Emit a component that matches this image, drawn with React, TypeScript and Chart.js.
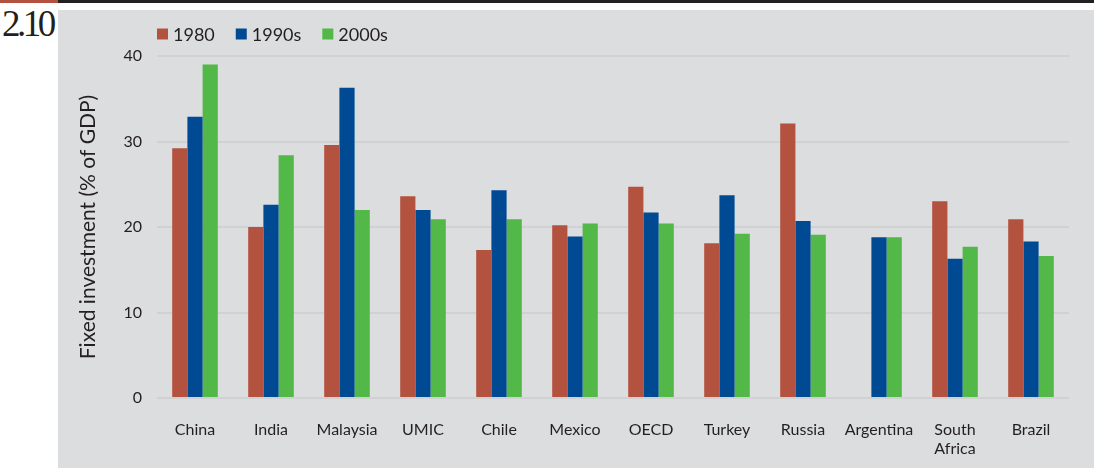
import React, { useEffect, useRef } from "react";
import { Chart, registerables } from "chart.js";

Chart.register(...registerables);

const categories: (string | string[])[] = [
  "China", "India", "Malaysia", "UMIC", "Chile", "Mexico", "OECD",
  "Turkey", "Russia", "Argentina", ["South", "Africa"], "Brazil",
];
const series1980: (number | null)[] = [29.2, 20.0, 29.6, 23.6, 17.3, 20.2, 24.7, 18.1, 32.1, null, 23.0, 20.9];
const series1990s: number[] = [32.9, 22.6, 36.3, 22.0, 24.3, 18.9, 21.7, 23.7, 20.7, 18.8, 16.3, 18.3];
const series2000s: number[] = [39.0, 28.4, 22.0, 20.9, 20.9, 20.4, 20.4, 19.2, 19.1, 18.8, 17.7, 16.6];
const seriesNames = ["1980", "1990s", "2000s"];
const yTicks = [0, 10, 20, 30, 40];

const RED = "#b3523f";
const BLUE = "#004a93";
const GREEN = "#52b848";
const FONT = "Lato, 'Open Sans', sans-serif";
const TEXT = "#231f20";

const legendPlugin = {
  id: "customLegend",
  afterDraw(chart: any) {
    const ctx = chart.ctx;
    const area = chart.chartArea;
    let x = area.left;
    const cy = 24;
    ctx.save();
    ctx.font = `18px ${FONT}`;
    ctx.textBaseline = "middle";
    ctx.textAlign = "left";
    chart.data.datasets.forEach((ds: any) => {
      ctx.fillStyle = ds.backgroundColor;
      ctx.fillRect(x, cy - 5.5, 11, 11);
      ctx.fillStyle = TEXT;
      const tx = x + 16;
      ctx.fillText(ds.label, tx, cy + 1);
      x = tx + ctx.measureText(ds.label).width + 21;
    });
    ctx.restore();
  },
};

export default function App() {
  const ref = useRef<HTMLCanvasElement | null>(null);

  useEffect(() => {
    document.body.style.margin = "0";
    if (!ref.current) return;
    const chart = new Chart(ref.current, {
      type: "bar",
      data: {
        labels: categories as any,
        datasets: [
          { label: seriesNames[0], data: series1980, backgroundColor: RED },
          { label: seriesNames[1], data: series1990s, backgroundColor: BLUE },
          { label: seriesNames[2], data: series2000s, backgroundColor: GREEN },
        ],
      },
      options: {
        animation: false,
        responsive: false,
        maintainAspectRatio: false,
        layout: { padding: { top: 46, right: 25, bottom: 0, left: 0 } },
        datasets: { bar: { categoryPercentage: 0.6, barPercentage: 1.0 } } as any,
        plugins: {
          legend: { display: false },
          tooltip: { enabled: false },
        },
        scales: {
          x: {
            grid: { display: false },
            border: { display: false },
            ticks: {
              color: TEXT,
              font: { family: FONT, size: 16 },
              padding: 14,
              maxRotation: 0,
              autoSkip: false,
            },
            afterFit: (s: any) => { s.height = 70; },
          },
          y: {
            min: 0,
            max: 40,
            afterBuildTicks: (s: any) => { s.ticks = yTicks.map((v) => ({ value: v })); },
            grid: { color: "#d0d1d3", lineWidth: 2, drawTicks: false },
            border: { display: false },
            ticks: {
              color: TEXT,
              font: { family: FONT, size: 16 },
              padding: 15,
            },
            title: {
              display: true,
              text: "Fixed investment (% of GDP)",
              color: TEXT,
              font: { family: FONT, size: 21 },
              padding: { top: 18, bottom: 0 },
            },
            afterFit: (s: any) => { s.width = 99; },
          },
        },
      },
      plugins: [legendPlugin],
    });
    return () => chart.destroy();
  }, []);

  return (
    <div style={{ position: "relative", width: 1094, height: 468, background: "#ffffff", overflow: "hidden" }}>
      <div style={{ position: "absolute", left: 0, top: 0, width: 1094, height: 3, background: "#231f20" }} />
      <div style={{ position: "absolute", left: 0, top: 0, width: 58, height: 3, background: RED }} />
      <div
        style={{
          position: "absolute",
          left: 2,
          top: 4,
          fontFamily: "'Liberation Serif', serif",
          fontSize: 37,
          letterSpacing: -3.5,
          color: TEXT,
          lineHeight: "40px",
        }}
      >
        2.10
      </div>
      <div style={{ position: "absolute", left: 58, top: 10, width: 1036, height: 458, background: "#dcdddf" }}>
        <canvas ref={ref} width={1036} height={458} style={{ display: "block", width: 1036, height: 458 }} />
      </div>
    </div>
  );
}
